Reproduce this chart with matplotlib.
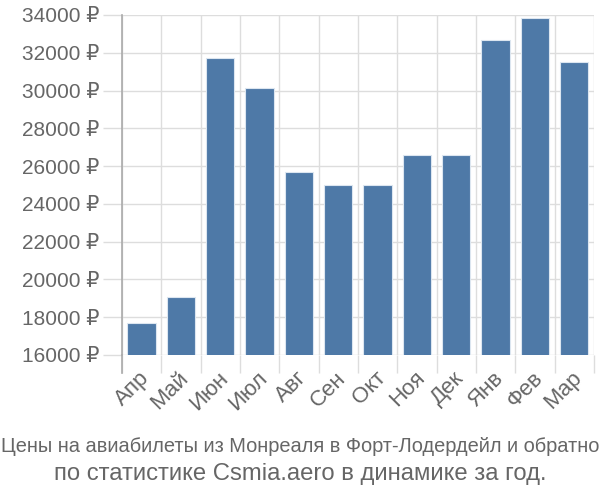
import matplotlib
matplotlib.use('Agg')
import matplotlib.pyplot as plt
import matplotlib.transforms as mtransforms
import numpy as np

plt.rcParams['font.family'] = ['Liberation Sans', 'DejaVu Sans']

months = ['Апр', 'Май', 'Июн', 'Июл', 'Авг', 'Сен', 'Окт', 'Ноя', 'Дек', 'Янв', 'Фев', 'Мар']
prices = [17700, 19050, 31700, 30150, 25700, 24980, 24980, 26570, 26570, 32650, 33850, 31530]
yticks = list(range(16000, 34001, 2000))
title1 = 'Цены на авиабилеты из Монреаля в Форт-Лодердейл и обратно'
title2 = 'по статистике Csmia.aero в динамике за год.'

fig = plt.figure(figsize=(6, 5), dpi=100)
ax = fig.add_axes([0.203, 0.29, 0.787, 0.68])

x = np.arange(len(months))
ax.bar(x, prices, width=0.72, color='#4e79a7', edgecolor='#dce6f0', linewidth=0.8, zorder=3)

ax.set_xlim(-0.5, len(months) - 0.5)
ax.set_ylim(16000, 34000)

# grid on category boundaries and value ticks
ax.set_xticks(np.arange(-0.5, len(months)), minor=True)
ax.set_xticks(x)
ax.set_xticklabels([])
ax.grid(True, which='minor', axis='x', color='#dddddd', linewidth=1, zorder=0)
ax.grid(True, which='major', axis='y', color='#dddddd', linewidth=1, zorder=0)
ax.tick_params(axis='x', which='major', length=0)
ax.tick_params(axis='x', which='minor', length=13, color='#dddddd', width=1)

ax.set_yticks(yticks)
ax.set_yticklabels(['{} ₽'.format(v) for v in yticks], fontsize=15, color='#666666')
ax.tick_params(axis='y', length=14, color='#dddddd', width=1, pad=2)

offset = mtransforms.ScaledTranslation(-2 / 72, -9 / 72, fig.dpi_scale_trans)
for i, m in enumerate(months):
    ax.text(i, 16000, m, rotation=45, ha='right', va='top', rotation_mode='anchor',
            fontsize=16, color='#666666', transform=ax.transData + offset)

for s in ['top', 'right', 'bottom']:
    ax.spines[s].set_visible(False)
ax.spines['left'].set_color('#aaaaaa')
ax.spines['left'].set_linewidth(1.2)
ax.axvline(-0.5, ymin=-0.053, ymax=0, clip_on=False, color='#aaaaaa', linewidth=1.2)

fig.text(0.5, 0.106, title1, ha='center', va='center', fontsize=14.4, color='#666666')
fig.text(0.5, 0.052, title2, ha='center', va='center', fontsize=17.2, color='#666666')

fig.savefig('out.png', dpi=100)
